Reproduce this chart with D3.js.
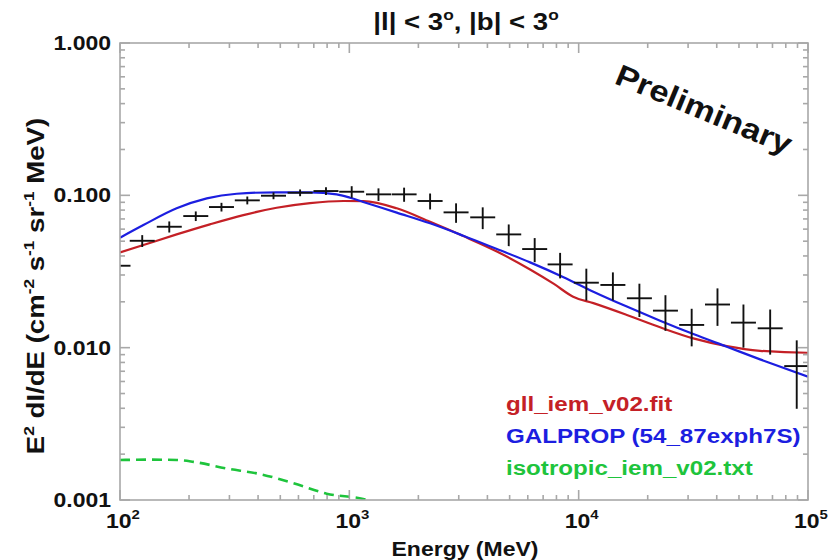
<!DOCTYPE html>
<html>
<head>
<meta charset="utf-8">
<script src="https://cdn.jsdelivr.net/npm/d3@7"></script>
<style>
  html, body { margin: 0; padding: 0; background: #fff; }
  svg { display: block; }
  text { font-family: "Liberation Sans", Arial, Helvetica, sans-serif; font-weight: bold; }
</style>
</head>
<body>
<svg id="chart" width="836" height="560"></svg>
<script>
// ---------------- data ----------------
const titleParts = ["|l| < 3", "o", ", |b| < 3", "o"];
const xTickValues = [100, 1000, 10000, 100000];
const xTickExponents = ["2", "3", "4", "5"];
const yTickValues = [1, 0.1, 0.01, 0.001];
const yTickLabels = ["1.000", "0.100", "0.010", "0.001"];

// measured points (Energy MeV, E^2 dI/dE, error)
const dataEnergy = [98, 125, 164, 214, 277, 359, 467, 610, 791, 1024, 1340, 1733, 2250, 2920, 3816, 4955, 6430, 8300, 10800, 14100, 18400, 23900, 31100, 40300, 52300, 68400, 89300];
const dataFlux = [0.0345, 0.0503, 0.0622, 0.0731, 0.0838, 0.0927, 0.0994, 0.104, 0.1067, 0.1056, 0.1015, 0.1015, 0.0918, 0.0773, 0.0717, 0.0554, 0.0444, 0.0352, 0.0267, 0.0258, 0.0211, 0.0175, 0.0141, 0.0192, 0.0146, 0.0134, 0.00757];
const dataErr = [0.002, 0.0045, 0.0052, 0.0053, 0.0055, 0.0055, 0.0051, 0.0053, 0.0062, 0.0092, 0.0096, 0.0108, 0.011, 0.0113, 0.0117, 0.009, 0.008, 0.0067, 0.0063, 0.0054, 0.0052, 0.0046, 0.0039, 0.0053, 0.0046, 0.0044, 0.0036];
const binHalfWidthDex = 0.0545;

// gll_iem_v02.fit (red)
const redEnergy = [100, 126.5, 176.6, 246.6, 345, 482, 674, 942, 1150, 1610, 2250, 3140, 4400, 6140, 7800, 9460, 11590, 16220, 22650, 31620, 44260, 61800, 98900, 100000];
const redFlux = [0.0422, 0.0472, 0.0554, 0.0645, 0.0742, 0.0829, 0.0890, 0.0918, 0.0916, 0.0822, 0.0670, 0.0540, 0.0428, 0.0326, 0.0262, 0.0216, 0.0196, 0.0164, 0.0136, 0.0115, 0.01024, 0.00954, 0.00926, 0.00926];

// GALPROP (blue)
const blueEnergy = [100, 126.5, 176.6, 239, 323, 482, 674, 881, 1007, 1150, 1610, 2250, 3140, 4400, 6140, 8590, 11590, 16220, 22650, 31620, 44260, 61800, 100000];
const blueFlux = [0.0527, 0.0638, 0.0822, 0.0955, 0.1024, 0.1047, 0.1047, 0.1015, 0.0965, 0.0905, 0.0770, 0.0655, 0.0543, 0.0444, 0.0363, 0.0290, 0.0233, 0.0186, 0.01503, 0.01228, 0.01014, 0.00838, 0.00644];

// isotropic_iem_v02.txt (green dashed)
const greenEnergy = [100, 135, 177, 209, 292, 408, 570, 796, 1191, 1260];
const greenFlux = [0.00183, 0.00184, 0.00183, 0.00178, 0.00161, 0.00148, 0.00129, 0.00110, 0.00100, 0.00097];

const legendLabels = ["gll_iem_v02.fit", "GALPROP (54_87exph7S)", "isotropic_iem_v02.txt"];
const legendColors = ["#c42026", "#1c1ee0", "#1ec43c"];

// ---------------- layout ----------------
const svg = d3.select("#chart");
const mLeft = 120, mRight = 808, mTop = 43, mBottom = 500;
const SX = 1.15; // horizontal glyph stretch

const x = d3.scaleLog().domain([100, 100000]).range([mLeft, mRight]);
const y = d3.scaleLog().domain([0.001, 1]).range([mBottom, mTop]);

const axisColor = "#a8a8a8";

svg.append("defs").append("clipPath").attr("id", "plotclip")
  .append("rect").attr("x", mLeft).attr("y", mTop).attr("width", mRight - mLeft).attr("height", mBottom - mTop);

const plot = svg.append("g").attr("clip-path", "url(#plotclip)");

const line = d3.line().x(d => x(d[0])).y(d => y(d[1])).curve(d3.curveMonotoneX);

plot.append("path").datum(redEnergy.map((e, i) => [e, redFlux[i]]))
  .attr("d", line).attr("fill", "none").attr("stroke", "#c42026").attr("stroke-width", 2.2);
plot.append("path").datum(blueEnergy.map((e, i) => [e, blueFlux[i]]))
  .attr("d", line).attr("fill", "none").attr("stroke", "#1c1ee0").attr("stroke-width", 2.2);
plot.append("path").datum(greenEnergy.map((e, i) => [e, greenFlux[i]]))
  .attr("d", line).attr("fill", "none").attr("stroke", "#1ec43c").attr("stroke-width", 2.6)
  .attr("stroke-dasharray", "10,6");

const pts = plot.append("g").attr("stroke", "#111").attr("stroke-width", 1.9);
dataEnergy.forEach((e, i) => {
  const lo = e / Math.pow(10, binHalfWidthDex), hi = e * Math.pow(10, binHalfWidthDex);
  pts.append("line").attr("x1", x(lo)).attr("x2", x(hi)).attr("y1", y(dataFlux[i])).attr("y2", y(dataFlux[i]));
  pts.append("line").attr("x1", x(e)).attr("x2", x(e))
    .attr("y1", y(dataFlux[i] + dataErr[i])).attr("y2", y(Math.max(dataFlux[i] - dataErr[i], 1e-4)));
});

// ---------------- axes frame & ticks ----------------
const ax = svg.append("g").attr("stroke", axisColor).attr("stroke-width", 1.6).attr("fill", "none");
ax.append("rect").attr("x", mLeft).attr("y", mTop).attr("width", mRight - mLeft).attr("height", mBottom - mTop);

x.ticks().forEach(t => {
  const major = xTickValues.some(v => Math.abs(v - t) / v < 1e-6);
  const len = major ? 10 : 5;
  const px = x(t);
  ax.append("line").attr("x1", px).attr("x2", px).attr("y1", mBottom).attr("y2", mBottom - len);
  ax.append("line").attr("x1", px).attr("x2", px).attr("y1", mTop).attr("y2", mTop + len);
});
y.ticks().forEach(t => {
  const major = yTickValues.some(v => Math.abs(v - t) / v < 1e-6);
  const len = major ? 10 : 5;
  const py = y(t);
  ax.append("line").attr("x1", mLeft).attr("x2", mLeft + len).attr("y1", py).attr("y2", py);
  ax.append("line").attr("x1", mRight).attr("x2", mRight - len).attr("y1", py).attr("y2", py);
});

// ---------------- text helpers ----------------
function stext(g, tx, ty, opts) {
  return g.append("text")
    .attr("transform", `translate(${tx},${ty})` + (opts.rotate ? ` rotate(${opts.rotate})` : "") + ` scale(${SX},1)`)
    .attr("font-size", opts.size)
    .attr("fill", opts.fill || "#111")
    .attr("text-anchor", opts.anchor || "start");
}

yTickValues.forEach((v, i) => {
  stext(svg, 111, y(v) + 7, { size: 20, anchor: "end" }).text(yTickLabels[i]);
});

xTickValues.forEach((v, i) => {
  const t = stext(svg, x(v) + 3, 528, { size: 20, anchor: "middle" });
  t.append("tspan").text("10");
  t.append("tspan").attr("font-size", 13).attr("dy", -9).text(xTickExponents[i]);
});

{
  const t = stext(svg, 466, 30, { size: 24, anchor: "middle" });
  t.append("tspan").text(titleParts[0]);
  t.append("tspan").attr("font-size", 15).attr("dy", -10).text(titleParts[1]);
  t.append("tspan").attr("dy", 10).text(titleParts[2]);
  t.append("tspan").attr("font-size", 15).attr("dy", -10).text(titleParts[3]);
}

stext(svg, 465, 556, { size: 20, anchor: "middle" }).text("Energy (MeV)");

{
  const t = stext(svg, 44, 286, { size: 24, anchor: "middle", rotate: -90 });
  t.append("tspan").text("E");
  t.append("tspan").attr("font-size", 15).attr("dy", -10).text("2");
  t.append("tspan").attr("dy", 10).text(" dI/dE (cm");
  t.append("tspan").attr("font-size", 15).attr("dy", -10).text("-2");
  t.append("tspan").attr("dy", 10).text(" s");
  t.append("tspan").attr("font-size", 15).attr("dy", -10).text("-1");
  t.append("tspan").attr("dy", 10).text(" sr");
  t.append("tspan").attr("font-size", 15).attr("dy", -10).text("-1");
  t.append("tspan").attr("dy", 10).text(" MeV)");
}

stext(svg, 700, 119, { size: 30, anchor: "middle", rotate: 22.5 }).text("Preliminary");

legendLabels.forEach((lab, i) => {
  stext(svg, 506, 411 + i * 32, { size: 21, fill: legendColors[i] }).text(lab);
});
</script>
</body>
</html>
